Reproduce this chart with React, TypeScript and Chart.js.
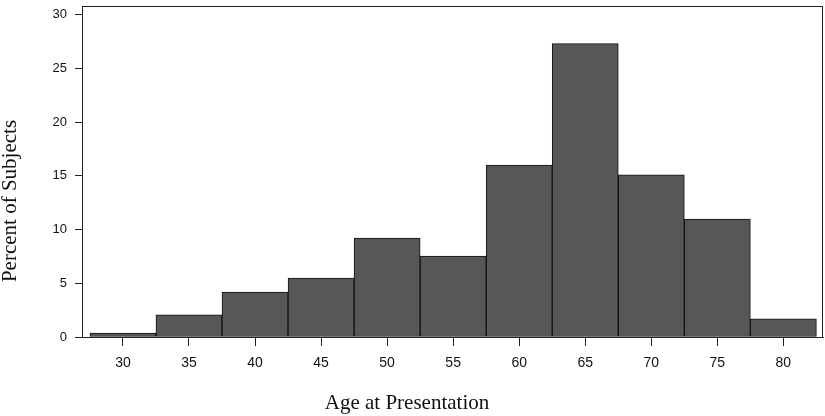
import React, { useEffect, useRef } from "react";
import { Chart, registerables } from "chart.js";

Chart.register(...registerables);

const binCenters = [30, 35, 40, 45, 50, 55, 60, 65, 70, 75, 80];
const percentValues = [0.37, 2.07, 4.18, 5.48, 9.2, 7.53, 16.0, 27.3, 15.1, 10.97, 1.7];
const xTickValues = [30, 35, 40, 45, 50, 55, 60, 65, 70, 75, 80];
const yTickValues = [0, 5, 10, 15, 20, 25, 30];
const xTitle = "Age at Presentation";
const yTitle = "Percent of Subjects";

const titlesPlugin = {
  id: "titlesAndFrame",
  afterDraw(chart: any) {
    const { ctx, chartArea } = chart;
    ctx.save();
    ctx.strokeStyle = "#222";
    ctx.lineWidth = 1;
    ctx.strokeRect(
      Math.round(chartArea.left) + 0.5,
      Math.round(chartArea.top) + 0.5,
      Math.round(chartArea.right - chartArea.left) - 1,
      Math.round(chartArea.bottom - chartArea.top)
    );
    ctx.fillStyle = "#111";
    ctx.font = '21px "Liberation Serif", "DejaVu Serif", serif';
    ctx.textAlign = "center";
    ctx.textBaseline = "alphabetic";
    ctx.fillText(xTitle, 407, 409);
    ctx.translate(16, 201);
    ctx.rotate(-Math.PI / 2);
    ctx.fillText(yTitle, 0, 0);
    ctx.restore();
  },
};

export default function App() {
  const ref = useRef<HTMLCanvasElement>(null);
  useEffect(() => {
    if (!ref.current) return;
    const chart = new Chart(ref.current, {
      type: "bar",
      data: {
        datasets: [
          {
            data: binCenters.map((x, i) => ({ x, y: percentValues[i] })),
            backgroundColor: "#575757",
            borderColor: "#111",
            borderWidth: 1,
            borderSkipped: false,
            barPercentage: 1,
            categoryPercentage: 1,
          },
        ],
      },
      options: {
        responsive: false,
        animation: false,
        layout: { padding: { left: 0, right: 2, top: 6, bottom: 0 } },
        plugins: { legend: { display: false }, tooltip: { enabled: false } },
        scales: {
          x: {
            type: "linear",
            offset: false,
            min: 26.9,
            max: 83.0,
            afterBuildTicks: (s: any) => {
              s.ticks = xTickValues.map((v) => ({ value: v }));
            },
            afterFit: (s: any) => {
              s.height = 79;
              s.paddingLeft = 0;
              s.paddingRight = 0;
            },
            grid: { drawOnChartArea: false, offset: false, tickLength: 9, color: "#222" },
            border: { display: true, color: "#222" },
            ticks: {
              padding: 9,
              color: "#111",
              font: { family: '"Liberation Sans", Arial, sans-serif', size: 14 },
              autoSkip: false,
              maxRotation: 0,
            },
          },
          y: {
            type: "linear",
            min: 0,
            max: 30.8,
            afterBuildTicks: (s: any) => {
              s.ticks = yTickValues.map((v) => ({ value: v }));
            },
            afterFit: (s: any) => {
              s.width = 82;
              s.paddingTop = 0;
              s.paddingBottom = 0;
            },
            grid: { drawOnChartArea: false, tickLength: 7, color: "#222" },
            border: { display: true, color: "#222" },
            ticks: {
              padding: 8,
              color: "#111",
              font: { family: '"Liberation Sans", Arial, sans-serif', size: 13 },
            },
          },
        },
      },
      plugins: [titlesPlugin],
    } as any);
    return () => chart.destroy();
  }, []);
  return (
    <div style={{ position: "absolute", left: 0, top: 0, width: 825, height: 416, background: "#fff" }}>
      <canvas ref={ref} width={825} height={416} />
    </div>
  );
}
